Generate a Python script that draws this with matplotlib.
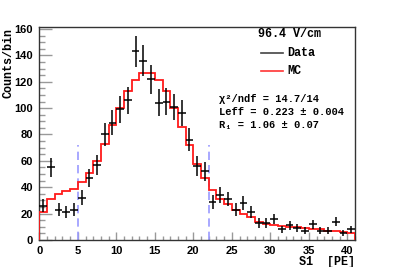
import numpy as np
import matplotlib
matplotlib.use("Agg")
import matplotlib.pyplot as plt
from matplotlib.lines import Line2D
from matplotlib.ticker import MultipleLocator

# ---- data ----
bin_edges = np.arange(0, 42, 1)
data_counts = [26, 55, 23, 21, 23, 32, 47, 57, 80, 89, 99, 106, 143, 136, 122,
               104, 105, 101, 96, 76, 56, 52, 29, 34, 31, 23, 28, 21, 13, 13,
               16, 8, 11, 9, 7, 12, 7, 7, 14, 5, 8]
mc_counts = [21, 31, 35, 37, 39, 44, 51, 60, 72.5, 87, 100, 113, 121.5, 126.5, 126.5,
             121, 113, 100, 86, 72, 58, 47, 38, 31, 27, 23, 19.5, 17.5, 14, 12.5,
             11.5, 10.5, 10, 9.5, 9, 8.5, 8, 7, 6.5, 6, 5.5]
cut_lines = [5, 22]
cut_height = 72
legend_title = "96.4 V/cm"
series_names = ["Data", "MC"]
stats_lines = ["\u03c7\u00b2/ndf = 14.7/14", "Leff = 0.223 \u00b1 0.004", "R\u2081 = 1.06 \u00b1 0.07"]
x_label = "S1  [PE]"
y_label = "Counts/bin"

W, H = 395, 267
fig = plt.figure(figsize=(W / 100, H / 100), dpi=100)
ax = fig.add_axes([39.3 / W, (H - 240) / H, (355 - 39.3) / W, (240 - 27) / H])

centers = 0.5 * (bin_edges[:-1] + bin_edges[1:])
data = np.array(data_counts, dtype=float)
mc = np.array(mc_counts, dtype=float)

# MC histogram
ax.stairs(mc, bin_edges, color="#ff1a1a", lw=1.3, zorder=3)
# Data with errors
ax.errorbar(centers, data, xerr=0.5, yerr=np.sqrt(data), fmt="none",
            ecolor="black", elinewidth=1.1, capsize=0, zorder=4)
# Cut lines
for c in cut_lines:
    ax.plot([c, c], [0, cut_height], color="#9a9aff", lw=1.2,
            dashes=(5, 3), zorder=2)

ax.set_xlim(0, 41)
ax.set_ylim(0, 161.5)
ax.xaxis.set_major_locator(MultipleLocator(5))
ax.xaxis.set_minor_locator(MultipleLocator(1))
ax.yaxis.set_major_locator(MultipleLocator(20))
ax.yaxis.set_minor_locator(MultipleLocator(5))
ax.tick_params(axis="both", which="both", direction="in", color="#999999",
               top=False, right=False, width=1)
ax.tick_params(axis="x", which="major", length=6, pad=4)
ax.tick_params(axis="x", which="minor", length=3)
ax.tick_params(axis="y", which="major", length=9, pad=4.5)
ax.tick_params(axis="y", which="minor", length=4.5)
for lab in ax.get_xticklabels() + ax.get_yticklabels():
    lab.set_fontfamily("Liberation Sans")
    lab.set_fontweight("bold")
    lab.set_fontsize(8)
for s in ax.spines.values():
    s.set_linewidth(1.0)
    s.set_color("#333333")

mono = dict(family=["Liberation Mono", "DejaVu Sans Mono"], fontweight="bold")

fig.text(8.5 / W, (H - 28) / H, y_label, rotation=90, ha="center", va="top",
         fontsize=8.5, **mono)
fig.text(355 / W, (H - 261.5) / H, x_label, ha="right", va="center",
         fontsize=8.5, **mono)

def axc(px, py):
    return ((px - 39.3) / (355 - 39.3), (240 - py) / (240 - 27))

tx, ty = axc(290, 34)
ax.text(tx, ty, legend_title, transform=ax.transAxes, ha="center", va="center",
        fontsize=8.5, **mono)
colors = ["#444444", "#ff3333"]
for name, col, py in zip(series_names, colors, [53, 71]):
    x0, y0 = axc(261, py)
    x1, _ = axc(283, py)
    ax.add_line(Line2D([x0, x1], [y0, y0], transform=ax.transAxes, color=col, lw=1.2))
    xt, _ = axc(287, py)
    ax.text(xt, y0, name, transform=ax.transAxes, ha="left", va="center",
            fontsize=8.5, **mono)

for line, py in zip(stats_lines, [99, 112, 125]):
    xs, ys = axc(219, py)
    ax.text(xs, ys, line, transform=ax.transAxes, ha="left", va="center",
            fontsize=7.5, **mono)

fig.savefig("out.png", dpi=100)
